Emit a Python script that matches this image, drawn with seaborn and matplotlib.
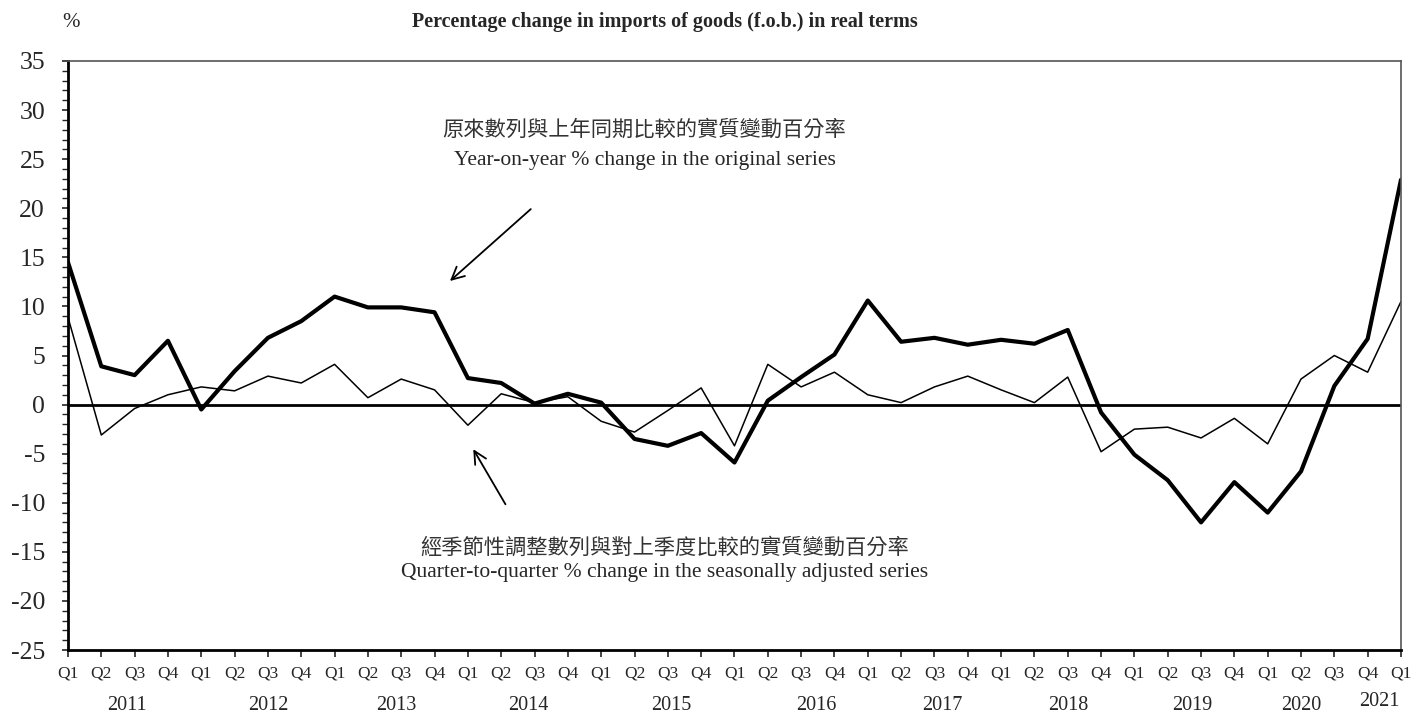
import numpy as np
import pandas as pd
import matplotlib
matplotlib.use("Agg")
import matplotlib.pyplot as plt
import seaborn as sns

# Quarterly data, 2011 Q1 to 2021 Q1
quarters = ["Q1", "Q2", "Q3", "Q4"] * 10 + ["Q1"]
years = ["2011", "2012", "2013", "2014", "2015", "2016", "2017", "2018", "2019", "2020", "2021"]

# year-on-year % change in the original series
yoy = [14.5, 3.9, 3.0, 6.5, -0.5, 3.4, 6.8, 8.5, 11.0, 9.9, 9.9, 9.4, 2.7, 2.2, 0.1, 1.1,
       0.2, -3.5, -4.2, -2.9, -5.9, 0.4, 2.8, 5.1, 10.6, 6.4, 6.8, 6.1, 6.6, 6.2, 7.6,
       -0.8, -5.1, -7.7, -12.0, -7.9, -11.0, -6.8, 1.9, 6.7, 22.9]

# quarter-to-quarter % change in the seasonally adjusted series
qoq = [8.9, -3.1, -0.4, 1.0, 1.8, 1.4, 2.9, 2.2, 4.1, 0.7, 2.6, 1.5, -2.1, 1.1, 0.2, 0.8,
       -1.7, -2.8, -0.6, 1.7, -4.2, 4.1, 1.8, 3.3, 1.0, 0.2, 1.8, 2.9, 1.5, 0.2, 2.8,
       -4.8, -2.5, -2.3, -3.4, -1.4, -4.0, 2.6, 5.0, 3.3, 10.5]

df = pd.DataFrame({"t": np.arange(len(yoy)), "yoy": yoy, "qoq": qoq})

sns.set_style("ticks")
plt.rcParams["font.family"] = ["Liberation Serif", "Noto Sans CJK TC"]
plt.rcParams["axes.unicode_minus"] = False
plt.rcParams["xtick.direction"] = "out"
plt.rcParams["ytick.direction"] = "out"

fig = plt.figure(figsize=(14.13, 7.2), dpi=100)
ax = fig.add_axes([0.0481, 0.0972, 0.9434, 0.8181])

sns.lineplot(data=df, x="t", y="qoq", ax=ax, color="black", linewidth=1.1)
sns.lineplot(data=df, x="t", y="yoy", ax=ax, color="black", linewidth=3.0)
ax.axhline(0, color="black", linewidth=2.0, zorder=1)

ax.set_xlim(0, len(yoy) - 1)
ax.set_ylim(-25, 35)
ax.set_xlabel("")
ax.set_ylabel("")

ax.set_yticks(np.arange(-25, 36, 5))
ax.set_yticks(np.arange(-25, 36, 1), minor=True)
ax.tick_params(axis="y", which="major", labelsize=18.5, length=4.5, width=1.2, pad=12)
ax.tick_params(axis="y", which="minor", length=4.5, width=1.0)

ax.set_xticks(df["t"])
ax.set_xticklabels(quarters)
ax.tick_params(axis="x", labelsize=12.5, length=5, width=1.2, pad=6)

for side in ["left", "bottom"]:
    ax.spines[side].set_linewidth(2.0)
    ax.spines[side].set_color("black")
for side in ["top", "right"]:
    ax.spines[side].set_visible(True)
    ax.spines[side].set_linewidth(1.2)
    ax.spines[side].set_color("#555555")

# year labels under the quarter labels
year_pos = [1.78, 6.0, 9.85, 13.8, 18.1, 22.46, 26.23, 30.03, 33.75, 37.0, 39.36]
year_y = [-0.095] * 10 + [-0.088]
for yr, xp, yp in zip(years, year_pos, year_y):
    ax.text(xp, yp, yr, transform=ax.get_xaxis_transform(), ha="center", va="center",
            fontsize=14.5)

# annotations
cjk = ["Noto Sans CJK TC", "Liberation Serif"]
ax.text(17.3, 28.0, "原來數列與上年同期比較的實質變動百分率", ha="center", va="center",
        fontsize=15.3, family=cjk, color="#333333", fontweight="light")
ax.text(17.3, 24.9, "Year-on-year % change in the original series", ha="center", va="center",
        fontsize=15.5)
ax.annotate("", xy=(11.4, 12.4), xytext=(13.95, 20.1),
            arrowprops=dict(arrowstyle="->,head_length=0.9,head_width=0.45", color="black", lw=1.3))

ax.text(17.9, -14.6, "經季節性調整數列與對上季度比較的實質變動百分率", ha="center", va="center",
        fontsize=15.3, family=cjk, color="#333333", fontweight="light")
ax.text(17.9, -17.1, "Quarter-to-quarter % change in the seasonally adjusted series", ha="center",
        va="center", fontsize=15.5)
ax.annotate("", xy=(12.12, -4.3), xytext=(13.17, -10.4),
            arrowprops=dict(arrowstyle="->,head_length=0.9,head_width=0.45", color="black", lw=1.3))

fig.text(0.05, 0.969, "%", ha="center", va="center", fontsize=15)
fig.text(0.4706, 0.969, "Percentage change in imports of goods (f.o.b.) in real terms",
         ha="center", va="center", fontsize=14.5, fontweight="bold")

fig.savefig("out.png", dpi=100)
